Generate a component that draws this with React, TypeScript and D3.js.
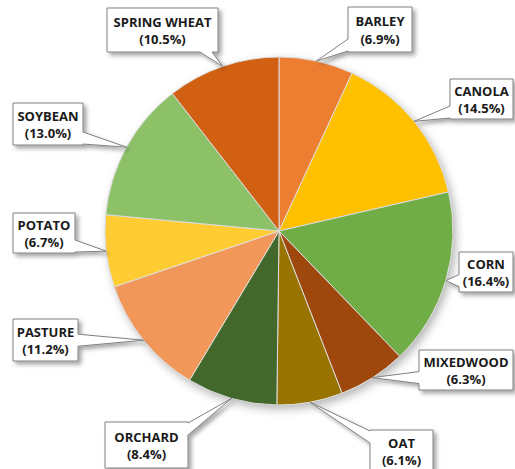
import React from "react";
import * as d3 from "d3";

const categories = ["BARLEY", "CANOLA", "CORN", "MIXEDWOOD", "OAT", "ORCHARD", "PASTURE", "POTATO", "SOYBEAN", "SPRING WHEAT"];
const shares = [6.9, 14.5, 16.4, 6.3, 6.1, 8.4, 11.2, 6.7, 13.0, 10.5];
const colors = ["#ED7D31", "#FFC000", "#70AD47", "#9E480E", "#997300", "#43682B", "#F1975A", "#FFCD33", "#8CC168", "#D26012"];

// label box layout [x0, y0, x1, y1]
const boxes: [number, number, number, number][] = [
  [348, 7, 412, 52],
  [450, 79, 513, 119],
  [459, 252, 513, 292],
  [419, 350, 513, 390],
  [370, 430, 433, 472],
  [105, 422, 188, 468],
  [13, 319, 78, 361],
  [13, 213, 75, 253],
  [13, 103, 83, 145],
  [107, 8, 218, 52],
];

const W = 515;
const H = 469;
const CX = 279;
const CY = 231;
const R = 174;

function calloutPath(b: [number, number, number, number], tx: number, ty: number) {
  const [x0, y0, x1, y1] = b;
  const exL = x0 - tx, exR = tx - x1, exT = y0 - ty, exB = ty - y1;
  const hx = Math.max(exL, exR);
  const hy = Math.max(exT, exB);
  const hw = 6;
  const clamp = (v: number, a: number, c: number) => Math.max(a, Math.min(c, v));
  if (hx >= hy) {
    const m = clamp(ty, y0 + hw + 1, y1 - hw - 1);
    const ya = m - hw, yb = m + hw;
    if (exL > exR) {
      return `M${x0},${y0}L${x1},${y0}L${x1},${y1}L${x0},${y1}L${x0},${yb}L${tx},${ty}L${x0},${ya}Z`;
    }
    return `M${x0},${y0}L${x1},${y0}L${x1},${ya}L${tx},${ty}L${x1},${yb}L${x1},${y1}L${x0},${y1}Z`;
  } else {
    const m = clamp(tx, x0 + hw + 2, x1 - hw - 6);
    const xa = m - hw, xb = m + hw;
    if (exB > exT) {
      return `M${x0},${y0}L${x1},${y0}L${x1},${y1}L${xb},${y1}L${tx},${ty}L${xa},${y1}L${x0},${y1}Z`;
    }
    return `M${x0},${y0}L${xa},${y0}L${tx},${ty}L${xb},${y0}L${x1},${y0}L${x1},${y1}L${x0},${y1}Z`;
  }
}

export default function App() {
  const pie = d3.pie<number>().sort(null).value((d) => d);
  const arcs = pie(shares);
  const arc = d3.arc<d3.PieArcDatum<number>>().innerRadius(0).outerRadius(R);

  return (
    <div style={{ position: "absolute", left: 0, top: 0 }}>
      <svg width={W} height={H} style={{ display: "block" }}>
        <defs>
          <filter id="pieShadow" x="-20%" y="-20%" width="140%" height="140%">
            <feDropShadow dx="3" dy="4" stdDeviation="5" floodColor="#000" floodOpacity="0.3" />
          </filter>
          <filter id="boxShadow" x="-20%" y="-20%" width="150%" height="150%">
            <feDropShadow dx="3" dy="3" stdDeviation="2" floodColor="#000" floodOpacity="0.35" />
          </filter>
        </defs>
        <rect width={W} height={H} fill="#ffffff" />
        <g transform={`translate(${CX},${CY})`}>
          <circle r={R} fill="#ffffff" filter="url(#pieShadow)" />
          {arcs.map((a, i) => (
            <path key={i} d={arc(a) || ""} fill={colors[i]} stroke="#dcdcdc" strokeWidth={1} />
          ))}
        </g>
        {arcs.map((a, i) => {
          const mid = (a.startAngle + a.endAngle) / 2;
          const tx = CX + R * Math.sin(mid);
          const ty = CY - R * Math.cos(mid);
          const b = boxes[i];
          const cxm = (b[0] + b[2]) / 2;
          const cym = (b[1] + b[3]) / 2;
          return (
            <g key={"l" + i}>
              <path d={calloutPath(b, tx, ty)} fill="#ffffff" stroke="#808080" strokeWidth={1} filter="url(#boxShadow)" />
              <text
                x={cxm}
                textAnchor="middle"
                fontFamily="'Open Sans', sans-serif"
                fontWeight={700}
                fontSize={13}
                fill="#1a1a1a"
              >
                <tspan x={cxm} y={cym - 3.5}>{categories[i]}</tspan>
                <tspan x={cxm} y={cym + 14}>{`(${shares[i].toFixed(1)}%)`}</tspan>
              </text>
            </g>
          );
        })}
      </svg>
    </div>
  );
}
